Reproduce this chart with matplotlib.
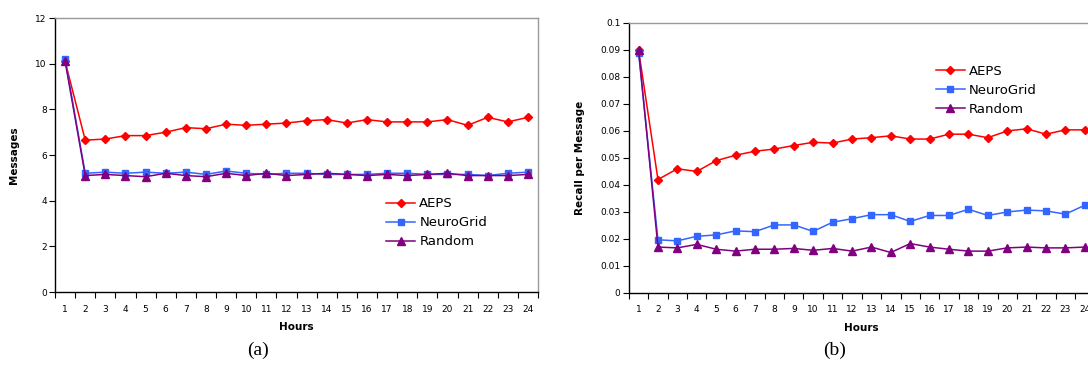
import matplotlib.pyplot as plt
import numpy as np

hours = list(range(1, 25))

msg_aeps = [10.1, 6.65, 6.7, 6.85, 6.85, 7.0, 7.2, 7.15, 7.35, 7.3, 7.35, 7.4,
            7.5, 7.55, 7.4, 7.55, 7.45, 7.45, 7.45, 7.55, 7.3, 7.65, 7.45, 7.65]
msg_neuro = [10.2, 5.2, 5.25, 5.2, 5.25, 5.2, 5.25, 5.15, 5.3, 5.2, 5.15, 5.2,
             5.2, 5.15, 5.15, 5.15, 5.2, 5.2, 5.15, 5.15, 5.15, 5.1, 5.2, 5.25]
msg_random = [10.1, 5.1, 5.15, 5.1, 5.05, 5.2, 5.1, 5.05, 5.2, 5.1, 5.2, 5.1,
              5.15, 5.2, 5.15, 5.1, 5.15, 5.1, 5.15, 5.2, 5.1, 5.1, 5.1, 5.15]

rec_aeps = [0.09, 0.042, 0.046, 0.045, 0.049, 0.051, 0.0525, 0.0533, 0.0546, 0.0558,
            0.0555, 0.057, 0.0575, 0.0582, 0.057, 0.057, 0.0588, 0.0588, 0.0575,
            0.06, 0.0608, 0.0588, 0.0604, 0.0604]
rec_neuro = [0.089, 0.0197, 0.0193, 0.021, 0.0215, 0.023, 0.0227, 0.0252, 0.0252,
             0.0228, 0.0262, 0.0275, 0.029, 0.029, 0.0265, 0.0287, 0.0287, 0.031,
             0.0287, 0.03, 0.0307, 0.0304, 0.0292, 0.0325]
rec_random = [0.09, 0.017, 0.0167, 0.018, 0.0162, 0.0155, 0.0162, 0.0162, 0.0165,
              0.0158, 0.0165, 0.0155, 0.017, 0.015, 0.0183, 0.017, 0.0162, 0.0155,
              0.0155, 0.0167, 0.017, 0.0167, 0.0167, 0.017]

series = ["AEPS", "NeuroGrid", "Random"]
colors = ["#ff0000", "#3366ff", "#800080"]
markers = ["D", "s", "^"]
msizes = [4.5, 5, 5.5]

fig = plt.figure(figsize=(10.88, 3.72), dpi=100)
ax1 = fig.add_axes([0.0506, 0.215, 0.4439, 0.7366])
ax2 = fig.add_axes([0.578, 0.2124, 0.428, 0.726])


def style(ax, ylim, yticks, yfmt, ylabel):
    ax.set_xlim(0.5, 24.5)
    ax.set_ylim(*ylim)
    ax.set_yticks(yticks)
    ax.set_yticklabels([yfmt(v) for v in yticks], fontsize=6.5)
    ax.set_xticks(hours)
    ax.set_xticklabels([str(h) for h in hours], fontsize=6.5)
    ax.set_xticks(np.arange(0.5, 25, 1), minor=True)
    ax.tick_params(axis='x', which='major', length=0, pad=9)
    ax.tick_params(axis='x', which='minor', length=4, width=0.8, direction='out')
    ax.tick_params(axis='y', length=4, width=0.8, direction='out', pad=2)
    for s in ['top', 'right']:
        ax.spines[s].set_color('#999999')
        ax.spines[s].set_linewidth(1.0)
    for s in ['left', 'bottom']:
        ax.spines[s].set_color('black')
        ax.spines[s].set_linewidth(1.0)
    ax.set_xlabel("Hours", fontsize=7.5, fontweight='bold', labelpad=6)
    ax.set_ylabel(ylabel, fontsize=7.5, fontweight='bold')


data1 = [msg_aeps, msg_neuro, msg_random]
data2 = [rec_aeps, rec_neuro, rec_random]
for ax, data in [(ax1, data1), (ax2, data2)]:
    for name, vals, c, m, ms in zip(series, data, colors, markers, msizes):
        ax.plot(hours, vals, color=c, marker=m, markersize=ms, linewidth=1.1,
                label=name, clip_on=False)

style(ax1, (0, 12), [0, 2, 4, 6, 8, 10, 12], lambda v: f"{v:g}", "Messages")
style(ax2, (0, 0.1), [i / 100 for i in range(11)],
      lambda v: "0" if v == 0 else f"{v:g}", "Recall per Message")
ax1.yaxis.set_label_coords(-0.075, 0.5)
ax2.yaxis.set_label_coords(-0.095, 0.5)

leg_kw = dict(frameon=False, fontsize=9.5, handlelength=2.2, handletextpad=0.3,
              labelspacing=0.45, borderaxespad=0)
ax1.legend(loc='upper left', bbox_to_anchor=(0.675, 0.365), **leg_kw)
ax2.legend(loc='upper left', bbox_to_anchor=(0.648, 0.865), **leg_kw)

fig.text(0.237, 0.045, "(a)", fontsize=14, family='Liberation Serif', ha='center')
fig.text(0.767, 0.045, "(b)", fontsize=14, family='Liberation Serif', ha='center')

fig.savefig("out.png", dpi=100)
